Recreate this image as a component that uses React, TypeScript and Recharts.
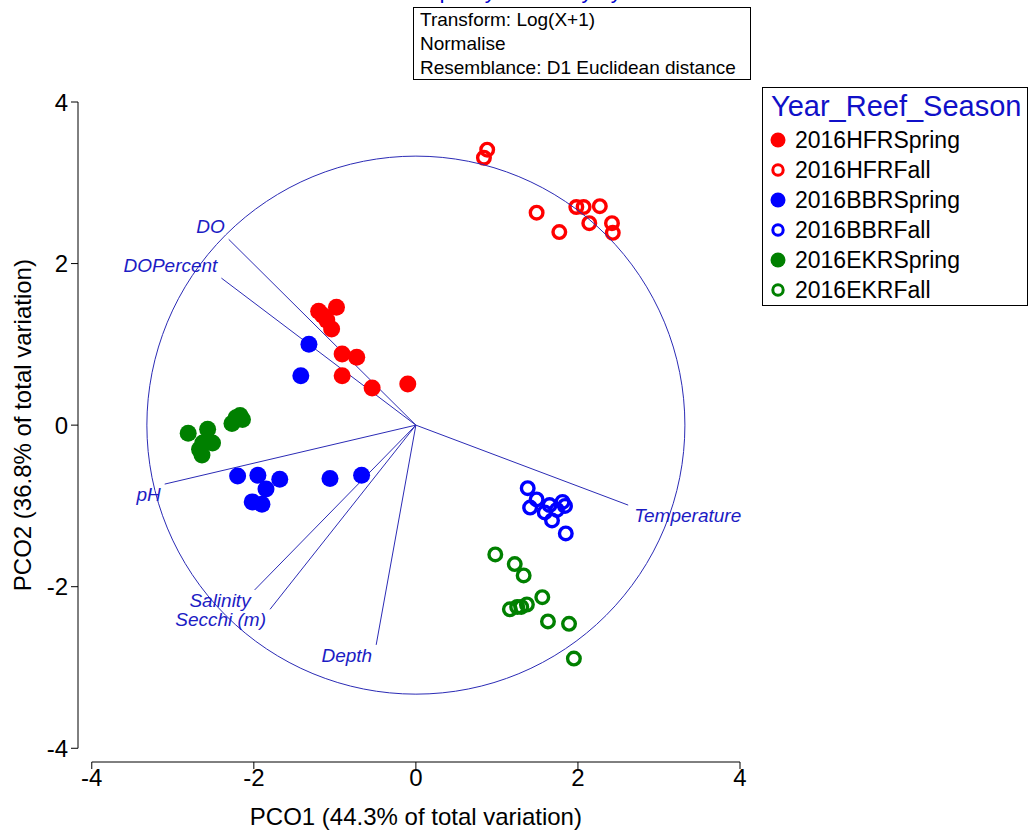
import React from 'react';
import { ScatterChart, Scatter, XAxis, YAxis, ReferenceLine, ReferenceDot, Label } from 'recharts';

const FONT = '"Liberation Sans", Arial, sans-serif';

const xTicks = [-4, -2, 0, 2, 4];
const yTicks = [-4, -2, 0, 2, 4];
const X_DOMAIN: [number, number] = [-4.17, 4];
const Y_DOMAIN: [number, number] = [-4.17, 4];

const hfrSpring = [
  { x: -1.2, y: 1.41 }, { x: -0.98, y: 1.46 }, { x: -1.1, y: 1.3 }, { x: -1.04, y: 1.19 },
  { x: -1.15, y: 1.36 }, { x: -0.91, y: 0.88 }, { x: -0.73, y: 0.84 }, { x: -0.91, y: 0.61 },
  { x: -0.54, y: 0.46 }, { x: -0.1, y: 0.51 },
];
const hfrFall = [
  { x: 0.88, y: 3.41 }, { x: 0.84, y: 3.31 }, { x: 1.49, y: 2.63 }, { x: 1.77, y: 2.39 },
  { x: 1.98, y: 2.7 }, { x: 2.07, y: 2.7 }, { x: 2.27, y: 2.71 }, { x: 2.14, y: 2.5 },
  { x: 2.42, y: 2.5 }, { x: 2.43, y: 2.38 },
];
const bbrSpring = [
  { x: -1.32, y: 1.0 }, { x: -1.42, y: 0.61 }, { x: -2.2, y: -0.63 }, { x: -1.95, y: -0.62 },
  { x: -1.68, y: -0.67 }, { x: -1.85, y: -0.79 }, { x: -2.02, y: -0.95 }, { x: -1.9, y: -0.98 },
  { x: -1.06, y: -0.66 }, { x: -0.67, y: -0.62 },
];
const bbrFall = [
  { x: 1.38, y: -0.78 }, { x: 1.49, y: -0.92 }, { x: 1.41, y: -1.02 }, { x: 1.59, y: -1.08 },
  { x: 1.65, y: -0.99 }, { x: 1.68, y: -1.18 }, { x: 1.81, y: -0.95 }, { x: 1.84, y: -1.0 },
  { x: 1.85, y: -1.34 }, { x: 1.74, y: -1.05 },
];
const ekrSpring = [
  { x: -2.81, y: -0.1 }, { x: -2.57, y: -0.05 }, { x: -2.63, y: -0.22 }, { x: -2.51, y: -0.22 },
  { x: -2.64, y: -0.37 }, { x: -2.67, y: -0.3 }, { x: -2.27, y: 0.02 }, { x: -2.17, y: 0.12 },
  { x: -2.14, y: 0.07 }, { x: -2.22, y: 0.09 },
];
const ekrFall = [
  { x: 0.98, y: -1.6 }, { x: 1.22, y: -1.72 }, { x: 1.33, y: -1.86 }, { x: 1.56, y: -2.13 },
  { x: 1.16, y: -2.28 }, { x: 1.25, y: -2.25 }, { x: 1.3, y: -2.25 }, { x: 1.37, y: -2.22 },
  { x: 1.63, y: -2.43 }, { x: 1.89, y: -2.46 }, { x: 1.95, y: -2.89 },
];

const groupNames = ['2016HFRSpring', '2016HFRFall', '2016BBRSpring', '2016BBRFall', '2016EKRSpring', '2016EKRFall'];
const groupColors = ['#ff0000', '#ff0000', '#0000ff', '#0000ff', '#008000', '#008000'];
const groupFilled = [true, false, true, false, true, false];
const groupData = [hfrSpring, hfrFall, bbrSpring, bbrFall, ekrSpring, ekrFall];

const vectorNames = ['DO', 'DOPercent', 'pH', 'Salinity', 'Secchi (m)', 'Depth', 'Temperature'];
const vectorX = [-2.31, -2.4, -3.1, -1.99, -1.8, -0.49, 2.62];
const vectorY = [2.3, 1.82, -0.73, -2.04, -2.28, -2.72, -0.99];
const circleRadius = 3.32;

const infoLines = ['Transform: Log(X+1)', 'Normalise', 'Resemblance: D1 Euclidean distance'];
const legendTitle = 'Year_Reef_Season';
const xTitle = 'PCO1 (44.3% of total variation)';
const yTitle = 'PCO2 (36.8% of total variation)';
const chartTitle = 'Water quality summary by reef';

const W = 1029;
const H = 833;
const MARGIN = { top: 102, right: 289, bottom: 0, left: 0 };
const Y_AXIS_W = 78;
const X_AXIS_H = 71;
const PLOT_W = W - MARGIN.left - MARGIN.right - Y_AXIS_W;
const PX_PER_UNIT = PLOT_W / (X_DOMAIN[1] - X_DOMAIN[0]);

const VEC_COLOR = '#2b2bb5';
const VEC_TEXT = '#1c1cc4';

const makeShape = (color: string, filled: boolean) => (props: any) =>
  filled ? (
    <circle cx={props.cx} cy={props.cy} r={8.5} fill={color} />
  ) : (
    <circle cx={props.cx} cy={props.cy} r={6.3} fill="none" stroke={color} strokeWidth={3.4} />
  );

const tickStyle = { fill: '#000', fontSize: 24, fontFamily: FONT };

export default function App() {
  return (
    <div style={{ position: 'absolute', left: 0, top: 0, width: W, height: H, background: '#fff', overflow: 'hidden', fontFamily: FONT }}>
      <div style={{ position: 'absolute', top: -20, left: 367, width: 300, textAlign: 'center', fontSize: 22, lineHeight: '22px', color: '#0000cc', whiteSpace: 'nowrap' }}>
        {chartTitle}
      </div>
      <ScatterChart width={W} height={H} margin={MARGIN}>
        <XAxis
          type="number"
          dataKey="x"
          domain={X_DOMAIN}
          ticks={xTicks}
          allowDataOverflow
          interval={0}
          height={X_AXIS_H}
          axisLine={false}
          tickLine={{ stroke: '#000' }}
          tickSize={7}
          tickMargin={0}
          tick={tickStyle}
        >
          <Label
            content={(p: any) => {
              const vb = p.viewBox;
              return (
                <text x={vb.x + vb.width * (-X_DOMAIN[0] / (X_DOMAIN[1] - X_DOMAIN[0]))} y={vb.y + 63} textAnchor="middle" fontSize={24} fontFamily={FONT} fill="#000">
                  {xTitle}
                </text>
              );
            }}
          />
        </XAxis>
        <YAxis
          type="number"
          dataKey="y"
          domain={Y_DOMAIN}
          ticks={yTicks}
          allowDataOverflow
          interval={0}
          width={Y_AXIS_W}
          axisLine={false}
          tickLine={{ stroke: '#000' }}
          tickSize={7}
          tickMargin={3}
          tick={tickStyle}
        >
          <Label
            content={(p: any) => {
              const vb = p.viewBox;
              const cy = vb.y + vb.height * (Y_DOMAIN[1] / (Y_DOMAIN[1] - Y_DOMAIN[0]));
              return (
                <text x={31} y={cy} transform={`rotate(-90 31 ${cy})`} textAnchor="middle" fontSize={24} fontFamily={FONT} fill="#000">
                  {yTitle}
                </text>
              );
            }}
          />
        </YAxis>
        {groupData.map((d, i) => (
          <Scatter
            key={groupNames[i]}
            name={groupNames[i]}
            data={d}
            isAnimationActive={false}
            shape={makeShape(groupColors[i], groupFilled[i])}
          />
        ))}
        <ReferenceLine
          segment={[{ x: X_DOMAIN[0], y: yTicks[0] }, { x: X_DOMAIN[0], y: yTicks[yTicks.length - 1] }]}
          stroke="#000"
          ifOverflow="visible"
        />
        <ReferenceLine
          segment={[{ x: xTicks[0], y: Y_DOMAIN[0] }, { x: xTicks[xTicks.length - 1], y: Y_DOMAIN[0] }]}
          stroke="#000"
          ifOverflow="visible"
        />
        <ReferenceDot x={0} y={0} r={circleRadius * PX_PER_UNIT} fill="none" stroke={VEC_COLOR} strokeWidth={1} ifOverflow="visible" />
        {vectorNames.map((n, i) => (
          <ReferenceLine
            key={'v' + n}
            segment={[{ x: 0, y: 0 }, { x: vectorX[i], y: vectorY[i] }]}
            stroke={VEC_COLOR}
            strokeWidth={1}
            ifOverflow="visible"
          />
        ))}
        {vectorNames.map((n, i) => (
          <ReferenceDot
            key={'l' + n}
            x={vectorX[i]}
            y={vectorY[i]}
            r={0}
            ifOverflow="visible"
            shape={(p: any) => {
              const left = vectorX[i] < 0;
              const up = vectorY[i] > 0;
              return (
                <text
                  x={p.cx + (left ? -4 : 6)}
                  y={p.cy + (up ? -6 : 17)}
                  textAnchor={left ? 'end' : 'start'}
                  fontSize={19}
                  fontStyle="italic"
                  fontFamily={FONT}
                  fill={VEC_TEXT}
                >
                  {n}
                </text>
              );
            }}
          />
        ))}
      </ScatterChart>
      <div
        style={{
          position: 'absolute', left: 413, top: 7, width: 338, height: 73, border: '1px solid #000',
          boxSizing: 'border-box', fontSize: 19, lineHeight: '24px', paddingLeft: 6, color: '#000', background: '#fff',
        }}
      >
        {infoLines.map((t) => (
          <div key={t} style={{ whiteSpace: 'nowrap' }}>{t}</div>
        ))}
      </div>
      <div
        style={{
          position: 'absolute', left: 762, top: 87, width: 266, height: 219, border: '1px solid #000',
          boxSizing: 'border-box', background: '#fff',
        }}
      >
        <div style={{ height: 37, lineHeight: '37px', fontSize: 29, color: '#1010c8', paddingLeft: 8, whiteSpace: 'nowrap' }}>
          {legendTitle}
        </div>
        {groupNames.map((n, i) => (
          <div key={n} style={{ height: 30, display: 'flex', alignItems: 'center', whiteSpace: 'nowrap' }}>
            <svg width={32} height={30} style={{ flex: 'none' }}>
              {groupFilled[i] ? (
                <circle cx={15} cy={15} r={7.5} fill={groupColors[i]} />
              ) : (
                <circle cx={15} cy={15} r={5.2} fill="none" stroke={groupColors[i]} strokeWidth={3} />
              )}
            </svg>
            <span style={{ fontSize: 23, color: '#000' }}>{n}</span>
          </div>
        ))}
      </div>
    </div>
  );
}
